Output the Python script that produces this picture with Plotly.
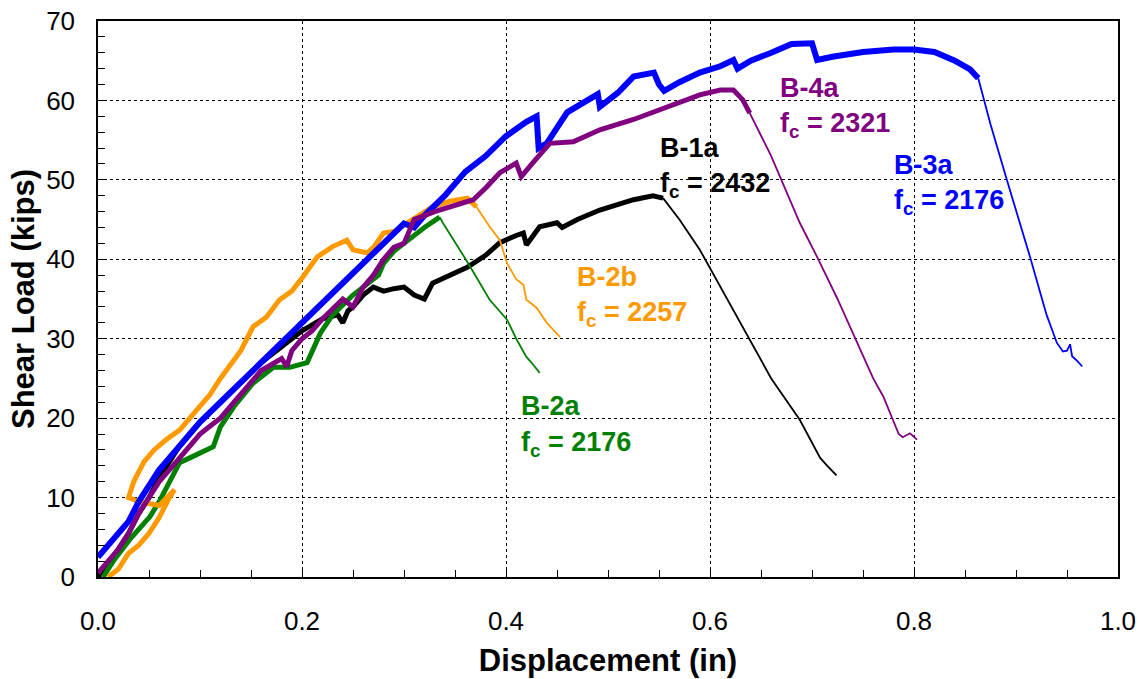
import plotly.graph_objects as go

# ---------------- data ----------------
# B-3a (blue)
b3a_rise_x = [0, 0.01, 0.02, 0.03, 0.04, 0.05, 0.06, 0.07, 0.08, 0.09, 0.1, 0.12, 0.14, 0.16, 0.18, 0.2,
              0.22, 0.24, 0.26, 0.28, 0.30, 0.31, 0.32, 0.34, 0.36, 0.38, 0.40, 0.42, 0.43, 0.432, 0.44,
              0.46, 0.48, 0.49, 0.492, 0.50, 0.51, 0.525, 0.545, 0.55, 0.555, 0.57, 0.59, 0.61, 0.623,
              0.627, 0.64, 0.66, 0.68, 0.70, 0.705, 0.72, 0.75, 0.78, 0.80, 0.82, 0.84, 0.855, 0.863]
b3a_rise_y = [2.5, 4, 5.5, 7, 9.5, 11.5, 13.5, 15, 16.5, 18, 19.5, 22, 24.5, 27, 29.5, 32,
              34.5, 37, 39.5, 42, 44.5, 44, 45.5, 48, 51, 53, 55.5, 57.3, 58, 54, 54.6,
              58.5, 60, 60.8, 59.2, 60, 61, 63, 63.5, 62, 61.2, 62.3, 63.5, 64.3, 65.1,
              64, 65, 66, 67.1, 67.2, 65.1, 65.5, 66.1, 66.4, 66.4, 66.1, 65, 63.9, 62.8]
b3a_fall_x = [0.863, 0.875, 0.891, 0.905, 0.914, 0.93, 0.94, 0.946, 0.95, 0.953, 0.955, 0.96, 0.965]
b3a_fall_y = [62.8, 57, 50, 44, 40.2, 33, 29.5, 28.4, 28.5, 29.3, 27.8, 27.2, 26.5]

# B-4a (purple)
b4a_rise_x = [0, 0.01, 0.02, 0.03, 0.04, 0.05, 0.06, 0.07, 0.08, 0.09, 0.1, 0.11, 0.12, 0.13, 0.14,
              0.15, 0.16, 0.18, 0.185, 0.19, 0.2, 0.21, 0.22, 0.24, 0.25, 0.26, 0.27, 0.28, 0.29, 0.30,
              0.31, 0.33, 0.345, 0.368, 0.381, 0.394, 0.41, 0.415, 0.426, 0.443, 0.466, 0.492, 0.525,
              0.558, 0.59, 0.61, 0.623, 0.632, 0.639]
b4a_rise_y = [0.5, 2, 3.5, 5.5, 8, 10, 12, 13.5, 15, 16.5, 18, 19, 20, 21.5, 23,
              24.5, 26, 27.5, 26.5, 28.5, 30, 31, 32.5, 35, 34, 36.5, 38, 40, 41.5, 42,
              45, 46, 46.6, 47.5, 49.1, 50.9, 52.1, 50.4, 52.1, 54.6, 54.8, 56.3, 57.6,
              59.2, 60.7, 61.3, 61.3, 60.1, 58.4]
b4a_fall_x = [0.639, 0.66, 0.688, 0.705, 0.725, 0.744, 0.76, 0.77, 0.785, 0.789, 0.796, 0.803]
b4a_fall_y = [58.4, 53, 44.6, 40.3, 35, 29.5, 25, 22.7, 18, 17.6, 18.1, 17.3]

# B-1a (black)
b1a_rise_x = [0, 0.01, 0.02, 0.03, 0.04, 0.05, 0.06, 0.07, 0.08, 0.09, 0.1, 0.12, 0.14, 0.16, 0.18,
              0.2, 0.22, 0.235, 0.24, 0.245, 0.25, 0.26, 0.27, 0.28, 0.29, 0.30, 0.31, 0.32, 0.328,
              0.345, 0.362, 0.38, 0.394, 0.41, 0.417, 0.42, 0.433, 0.45, 0.455, 0.47, 0.492, 0.525,
              0.544, 0.554]
b1a_rise_y = [0, 1.5, 3.5, 5.5, 8, 10, 12.5, 14.5, 16.5, 18, 19.5, 22, 24.5, 27, 29,
              31, 32.5, 33, 32, 33.5, 34, 35.5, 36.5, 36, 36.3, 36.5, 35.5, 35, 37,
              38, 39, 40.5, 42.1, 43, 43.3, 41.8, 44.1, 44.6, 44, 45, 46.2, 47.5,
              48, 47.7]
b1a_fall_x = [0.554, 0.57, 0.59, 0.617, 0.639, 0.66, 0.688, 0.70, 0.708, 0.715, 0.724]
b1a_fall_y = [47.7, 45, 41.2, 34.9, 29.8, 25, 19.8, 17, 15, 14, 12.8]

# B-2b (orange)
b2b_rise_x = [0.01, 0.02, 0.03, 0.04, 0.05, 0.06, 0.07, 0.075, 0.06, 0.04, 0.03, 0.035, 0.045, 0.055,
              0.067, 0.08, 0.09, 0.1, 0.11, 0.12, 0.133, 0.14, 0.152, 0.165, 0.178, 0.19, 0.201,
              0.215, 0.23, 0.244, 0.25, 0.264, 0.27, 0.28, 0.29, 0.30, 0.31, 0.328, 0.345, 0.362, 0.371]
b2b_rise_y = [0, 1, 3, 4, 5.5, 7.5, 10, 11, 9, 9.5, 10, 12, 14.5, 16,
              17.3, 18.5, 20, 21.5, 23, 25, 27.3, 28.5, 31.5, 32.7, 34.9, 36, 37.8,
              40.3, 41.6, 42.4, 41.2, 40.8, 41.5, 43.3, 43.5, 44.3, 45, 46.6, 47.3, 47.7, 46.6]
b2b_fall_x = [0.371, 0.384, 0.394, 0.401, 0.41, 0.417, 0.42, 0.43, 0.44, 0.453]
b2b_fall_y = [46.6, 44.1, 42.4, 39.5, 37.5, 36.8, 34.9, 33.9, 32, 30.2]

# B-2a (green)
b2a_rise_x = [0.005, 0.015, 0.031, 0.04, 0.051, 0.06, 0.071, 0.08, 0.09, 0.1, 0.113, 0.12, 0.133,
              0.152, 0.172, 0.188, 0.205, 0.218, 0.23, 0.25, 0.265, 0.275, 0.28, 0.29, 0.30, 0.31,
              0.32, 0.335]
b2a_rise_y = [0, 2, 4.7, 6, 7.6, 9.5, 12.2, 14.4, 15, 15.6, 16.4, 18.9, 21.4,
              24.4, 26.4, 26.4, 27, 30.7, 33, 35.5, 37, 38, 39.5, 41, 42, 43,
              44, 45.3]
b2a_fall_x = [0.335, 0.338, 0.362, 0.384, 0.401, 0.41, 0.42, 0.425, 0.433]
b2a_fall_y = [45.3, 44.6, 39.7, 34.9, 32.4, 30, 27.7, 27, 25.7]

specimens = ["B-1a", "B-2a", "B-2b", "B-3a", "B-4a"]
fc_values = ["2432", "2176", "2257", "2176", "2321"]
label_x = [0.549, 0.413, 0.468, 0.778, 0.667]
label_y = [54.0, 21.5, 37.8, 51.9, 61.6]

x_ticks = [0.0, 0.2, 0.4, 0.6, 0.8, 1.0]
x_tick_text = ["0.0", "0.2", "0.4", "0.6", "0.8", "1.0"]
y_ticks = [0, 10, 20, 30, 40, 50, 60, 70]

# ---------------- styling ----------------
colors = {"B-1a": "#000000", "B-2a": "#008000", "B-2b": "#FF9900",
          "B-3a": "#0000FF", "B-4a": "#800080"}
series = {
    "B-1a": (b1a_rise_x, b1a_rise_y, b1a_fall_x, b1a_fall_y),
    "B-2a": (b2a_rise_x, b2a_rise_y, b2a_fall_x, b2a_fall_y),
    "B-2b": (b2b_rise_x, b2b_rise_y, b2b_fall_x, b2b_fall_y),
    "B-3a": (b3a_rise_x, b3a_rise_y, b3a_fall_x, b3a_fall_y),
    "B-4a": (b4a_rise_x, b4a_rise_y, b4a_fall_x, b4a_fall_y),
}
draw_order = ["B-1a", "B-2a", "B-2b", "B-3a", "B-4a"]
rise_width = {"B-1a": 5, "B-2a": 5, "B-2b": 5, "B-3a": 6, "B-4a": 5}

fig = go.Figure()
for name in draw_order:
    rx, ry, fx, fy = series[name]
    c = colors[name]
    fig.add_trace(go.Scatter(x=rx, y=ry, mode="lines", line=dict(color=c, width=rise_width[name]),
                             name=name, showlegend=False, hoverinfo="x+y"))
    fig.add_trace(go.Scatter(x=fx, y=fy, mode="lines", line=dict(color=c, width=1.8),
                             name=name, showlegend=False, hoverinfo="x+y"))

FONT = "Liberation Sans, Arial, sans-serif"
for name, fc, lx, ly in zip(specimens, fc_values, label_x, label_y):
    fig.add_annotation(x=lx, y=ly, xref="x", yref="y", text=f"<b>{name}</b>",
                       showarrow=False, xanchor="left", yanchor="middle",
                       font=dict(family=FONT, size=27, color=colors[name]))
    fig.add_annotation(x=lx, y=ly - 4.7, xref="x", yref="y",
                       text=f"<b>f<sub>c</sub> = {fc}</b>",
                       showarrow=False, xanchor="left", yanchor="middle",
                       font=dict(family=FONT, size=27, color=colors[name]))

axis_common = dict(showline=True, linecolor="black", linewidth=1.5, mirror=True,
                   showgrid=True, gridcolor="black", gridwidth=1, griddash="3px,3px",
                   zeroline=False, ticks="inside", ticklen=7, tickcolor="black",
                   automargin=False,
                   tickfont=dict(family=FONT, size=26, color="black"))

fig.update_xaxes(range=[0, 1.0], tickvals=x_ticks, ticktext=x_tick_text,
                 minor=dict(dtick=0.05, tick0=0, ticks="inside", ticklen=7, tickcolor="black",
                            showgrid=False),
                 ticklabelstandoff=20,
                 title=dict(text="<b>Displacement (in)</b>", standoff=14,
                            font=dict(family=FONT, size=31, color="black")),
                 **axis_common)
fig.update_yaxes(range=[0, 70], tickvals=y_ticks,
                 minor=dict(dtick=2, tick0=0, ticks="inside", ticklen=7, tickcolor="black",
                            showgrid=False),
                 ticklabelstandoff=16,
                 title=dict(text="<b>Shear Load (kips)</b>", standoff=2,
                            font=dict(family=FONT, size=31, color="black")),
                 **axis_common)

fig.update_layout(width=1147, height=679, plot_bgcolor="white", paper_bgcolor="white",
                  margin=dict(l=98, r=29, t=21, b=102), showlegend=False)

fig.write_html("out.html", config={"displayModeBar": False},
               post_script="document.body.style.margin='0';")
